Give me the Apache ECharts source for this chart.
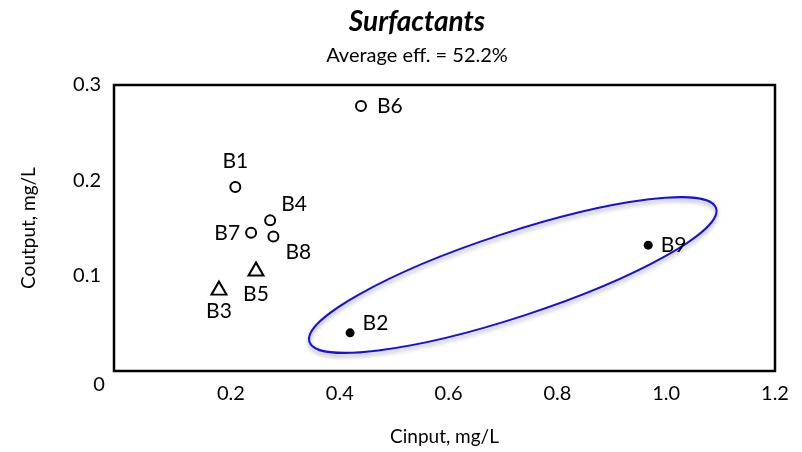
<!DOCTYPE html>
<html>
<head>
<meta charset="utf-8">
<script src="https://cdn.jsdelivr.net/npm/echarts@6/dist/echarts.min.js"></script>
<style>
  html, body { margin: 0; padding: 0; background: #fff; }
  #chart { width: 802px; height: 452px; }
</style>
</head>
<body>
<div id="chart"></div>
<script>
// sampling sites
const names   = ['B1', 'B2', 'B3', 'B4', 'B5', 'B6', 'B7', 'B8', 'B9']
const cinput  = [0.208, 0.419, 0.178, 0.272, 0.246, 0.439, 0.237, 0.278, 0.967]
const coutput = [0.193, 0.040, 0.087, 0.158, 0.107, 0.278, 0.145, 0.141, 0.132]
const kinds   = ['open', 'filled', 'triangle', 'open', 'triangle', 'open', 'open', 'open', 'filled']

const xTicks = [0.2, 0.4, 0.6, 0.8, 1.0, 1.2]
const yTicks = [0.1, 0.2, 0.3]
const cluster = [0.718, 0.1007] // centre of the blue ring (data units)

const FONT = 'Lato'

// where each label sits next to its marker
const labelPlace = {
  B1: { position: 'top', distance: 9 },
  B2: { position: 'right', distance: 8, offset: [0, -10] },
  B3: { position: 'bottom', distance: 5 },
  B4: { position: 'right', distance: 5, offset: [0, -16] },
  B5: { position: 'bottom', distance: 7 },
  B6: { position: 'right', distance: 10 },
  B7: { position: 'left', distance: 5 },
  B8: { position: 'right', distance: 6, offset: [0, 16] },
  B9: { position: 'right', distance: 8 }
}

const labelStyle = { show: true, formatter: '{b}', color: '#000', fontFamily: FONT, fontSize: 21 }

function points(kind) {
  return names.map((n, i) => ({ n, i })).filter(d => kinds[d.i] === kind).map(({ n, i }) => ({
    name: n,
    value: [cinput[i], coutput[i]],
    label: Object.assign({}, labelStyle, labelPlace[n])
  }))
}

const chart = echarts.init(document.getElementById('chart'), null, { renderer: 'canvas' })

chart.setOption({
  animation: false,
  title: {
    text: 'Surfactants',
    subtext: 'Average eff. = 52.2%',
    left: 412, top: 3, textAlign: 'center', itemGap: 10,
    textStyle: { fontFamily: FONT, fontSize: 28, fontWeight: 'bold', fontStyle: 'italic', color: '#000' },
    subtextStyle: { fontFamily: FONT, fontSize: 20, color: '#000' }
  },
  grid: { left: 114, right: 27, top: 85, bottom: 81, show: true, borderColor: '#000', borderWidth: 2.5 },
  xAxis: {
    type: 'value', min: -0.015, max: 1.2,
    name: 'Cinput, mg/L', nameLocation: 'middle', nameGap: 56,
    nameTextStyle: { fontFamily: FONT, fontSize: 19, color: '#000' },
    axisLine: { show: false }, axisTick: { show: false }, splitLine: { show: false },
    axisLabel: {
      customValues: xTicks, margin: 13, color: '#000', fontFamily: FONT, fontSize: 20,
      formatter: v => v.toFixed(1)
    }
  },
  yAxis: {
    type: 'value', min: 0, max: 0.3,
    name: 'Coutput, mg/L', nameLocation: 'middle', nameGap: 76,
    nameTextStyle: { fontFamily: FONT, fontSize: 19, color: '#000' },
    axisLine: { show: false }, axisTick: { show: false }, splitLine: { show: false },
    axisLabel: {
      customValues: yTicks, margin: 13, color: '#000', fontFamily: FONT, fontSize: 20,
      formatter: v => v.toFixed(1)
    }
  },
  series: [
    {
      type: 'scatter', symbol: 'circle', symbolSize: 10,
      itemStyle: { color: '#fff', borderColor: '#000', borderWidth: 2, opacity: 1 },
      data: points('open')
    },
    {
      type: 'scatter', symbol: 'triangle', symbolSize: [15, 13],
      itemStyle: { color: '#fff', borderColor: '#000', borderWidth: 2, opacity: 1 },
      data: points('triangle')
    },
    {
      type: 'scatter', symbol: 'circle', symbolSize: 9,
      itemStyle: { color: '#000', opacity: 1 },
      data: points('filled')
    }
  ]
})

// ring around B2/B9 and the lone corner "0"
const c = chart.convertToPixel({ gridIndex: 0 }, cluster)
const o = chart.convertToPixel({ gridIndex: 0 }, [-0.015, 0])
chart.setOption({
  graphic: [
    {
      type: 'ellipse', x: c[0], y: c[1], rotation: 18.2 * Math.PI / 180, z: 1,
      shape: { cx: 0, cy: 0, rx: 214, ry: 42 },
      style: {
        fill: 'none', stroke: '#1010ee', lineWidth: 2,
        shadowBlur: 4, shadowColor: 'rgba(0,0,0,0.35)', shadowOffsetY: 3
      }
    },
    {
      type: 'text', x: o[0] - 15, y: o[1] + 14,
      style: { text: '0', fontFamily: FONT, fontSize: 20, fill: '#000', align: 'center', verticalAlign: 'middle' }
    }
  ]
})

window.addEventListener('resize', () => chart.resize())
</script>
</body>
</html>
